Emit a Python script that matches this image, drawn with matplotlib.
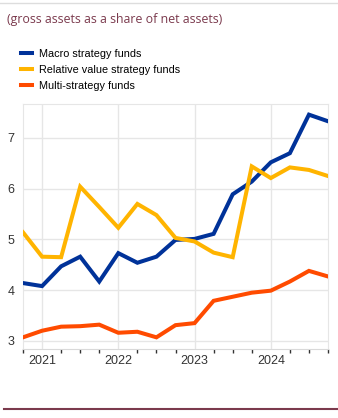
import numpy as np
import pandas as pd
import matplotlib.pyplot as plt
from matplotlib.lines import Line2D

plt.rcParams['font.family'] = ['Liberation Sans', 'DejaVu Sans']

# quarterly observations, Q4 2020 - Q4 2024
quarters = pd.period_range('2020Q4', '2024Q4', freq='Q')
macro = [4.14, 4.08, 4.47, 4.66, 4.17, 4.73, 4.54, 4.66, 4.99, 5.01, 5.11,
         5.89, 6.14, 6.52, 6.70, 7.46, 7.33]
rel_value = [5.14, 4.66, 4.65, 6.04, 5.64, 5.23, 5.70, 5.48, 5.03, 4.96, 4.74,
             4.65, 6.44, 6.21, 6.42, 6.37, 6.25]
multi = [3.07, 3.20, 3.28, 3.29, 3.32, 3.16, 3.18, 3.07, 3.31, 3.35, 3.79,
         3.87, 3.95, 3.99, 4.17, 4.38, 4.27]
labels = ['Macro strategy funds', 'Relative value strategy funds', 'Multi-strategy funds']
colors = ['#003299', '#ffb400', '#ff4b00']
year_labels = ['2021', '2022', '2023', '2024']

x = np.arange(len(quarters))

fig = plt.figure(figsize=(3.38, 4.18), dpi=100)
ax = fig.add_axes([23 / 338, 69 / 418, 305 / 338, 245 / 418])

for vals, c in zip([macro, rel_value, multi], colors):
    ax.plot(x, vals, color=c, lw=2.9, solid_joinstyle='miter', zorder=3)

ax.set_xlim(0, len(x) - 1)
ax.set_ylim(2.84, 7.67)
ax.set_yticks([3, 4, 5, 6, 7])
ax.set_yticklabels(['3', '4', '5', '6', '7'], fontsize=9, color='#333333')

# year gridlines at Q1 of each year, quarter ticks
year_pos = [i for i, q in enumerate(quarters) if q.quarter == 1]
ax.set_xticks(x, minor=True)
ax.set_xticks(year_pos)
ax.set_xticklabels(year_labels, fontsize=9, color='#333333')
ax.tick_params(axis='x', which='both', length=3, width=1, color='#333333', pad=4)
ax.tick_params(axis='x', which='major', length=0)
ax.tick_params(axis='y', length=0, pad=6)

ax.grid(True, which='major', color='#e6e6e6', lw=1, zorder=0)
for s in ['top', 'right', 'left']:
    ax.spines[s].set_color('#e6e6e6')
ax.spines['bottom'].set_color('#d9d9d9')

fig.text(7 / 338, 1 - 19 / 418, '(gross assets as a share of net assets)',
         fontsize=8.9, color='#7b3a4d', va='center', family=['Open Sans', 'DejaVu Sans'])

handles = [Line2D([0], [0], color=c, lw=2.9) for c in colors]
fig.legend(handles, labels, loc='upper left', bbox_to_anchor=(21 / 338, 1 - 49 / 418),
           frameon=False, fontsize=7.8, handlelength=1.05, handletextpad=0.65,
           labelspacing=0.55, borderaxespad=0, borderpad=0)

fig.add_artist(Line2D([4 / 338, 1], [1 - 409 / 418] * 2, color='#7b3a4d', lw=1.5))
fig.add_artist(Line2D([0, 1], [1 - 3 / 418] * 2, color='#dddddd', lw=1))

fig.savefig('out.png', dpi=100)
